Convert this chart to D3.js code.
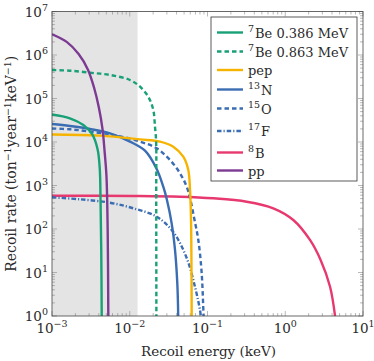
<!DOCTYPE html>
<html>
<head>
<meta charset="utf-8">
<script src="https://cdn.jsdelivr.net/npm/d3@7"></script>
<style>
  body { margin: 0; background: #fff; }
</style>
</head>
<body>
<div id="chart"></div>
<script>
// ---- data (energy in keV, rate in ton^-1 year^-1 keV^-1) ----
var be386E = [1e-3, 1.70e-3, 2.53e-3, 3.27e-3, 3.85e-3, 4.11e-3, 4.21e-3, 4.30e-3, 4.36e-3];
var be386R = [4.29e4, 3.51e4, 2.46e4, 1.53e4, 6.9e3, 2.5e3, 465, 33, 1];

var be863E = [1e-3, 1.70e-3, 3.08e-3, 5.57e-3, 1.007e-2, 1.355e-2, 1.73e-2, 2.01e-2, 2.11e-2, 2.18e-2, 2.19e-2, 2.20e-2];
var be863R = [4.52e5, 4.36e5, 3.92e5, 3.47e5, 2.66e5, 1.87e5, 1.1e5, 5.4e4, 2.25e4, 1.1e4, 465, 1];

var pepE = [1e-3, 4.14e-3, 1.355e-2, 2.45e-2, 3.63e-2, 4.88e-2, 5.66e-2, 5.96e-2, 6.14e-2, 6.26e-2];
var pepR = [1.49e4, 1.40e4, 1.15e4, 1.02e4, 7.8e3, 4.6e3, 2.27e3, 788, 161, 1];

var n13E = [1e-3, 1.70e-3, 3.08e-3, 5.57e-3, 1.007e-2, 1.57e-2, 2.22e-2, 2.70e-2, 3.01e-2, 3.46e-2, 3.82e-2, 4.09e-2, 4.20e-2];
var n13R = [2.59e4, 2.33e4, 1.99e4, 1.58e4, 1.02e4, 6.3e3, 2.4e3, 938, 464, 135, 33, 5.6, 1];

var o15E = [1e-3, 1.70e-3, 3.08e-3, 6.79e-3, 1.355e-2, 2.22e-2, 3.29e-2, 4.43e-2, 5.40e-2, 5.96e-2, 6.81e-2, 7.62e-2, 8.42e-2, 8.89e-2];
var o15R = [2.04e4, 1.96e4, 1.73e4, 1.40e4, 1.02e4, 7.16e3, 3.86e3, 1.91e3, 938, 516, 161, 55.9, 9.6, 1];

var f17E = [1e-3, 2.29e-3, 5.57e-3, 1.11e-2, 2.22e-2, 3.63e-2, 5.40e-2, 6.90e-2, 8.01e-2, 8.2e-2];
var f17R = [535, 482, 402, 299, 192, 85, 21.5, 4.7, 1.37, 1];

var b8E = [1e-3, 1.11e-2, 4.43e-2, 0.1187, 0.319, 0.702, 1.269, 2.08, 2.85, 3.77, 4.37];
var b8R = [583, 574, 553, 508, 424, 299, 161, 56, 19.4, 4.7, 1];

var ppE = [1e-3, 1.545e-3, 2.20e-3, 2.90e-3, 3.50e-3, 4.00e-3, 4.46e-3, 4.75e-3, 5.02e-3, 5.20e-3, 5.30e-3];
var ppR = [3.0e6, 2.0e6, 1.05e6, 4.6e5, 1.7e5, 6.3e4, 2.0e4, 6.0e3, 1.6e3, 95, 1];

var shadeRange = [1e-3, 0.0126];
var xTickExp = [-3, -2, -1, 0, 1];
var yTickExp = [0, 1, 2, 3, 4, 5, 6, 7];

// legend labels: superscript prefix + main text
var legendSup = ["7", "7", "", "13", "15", "17", "8", ""];
var legendMain = ["Be 0.386 MeV", "Be 0.863 MeV", "pep", "N", "O", "F", "B", "pp"];

// ---- chart ----
var W = 374, H = 361;
var margin = {top: 11.5, right: 11, bottom: 45, left: 52};
var width = W - margin.left - margin.right;
var height = H - margin.top - margin.bottom;
var serif = "DejaVu Serif";
var textColor = "#2a2a2a";

var svg = d3.select("#chart").append("svg")
    .attr("width", W)
    .attr("height", H)
    .attr("font-family", serif)
    .style("font-family", serif);

var g = svg.append("g")
    .attr("transform", "translate(" + margin.left + "," + margin.top + ")");

var x = d3.scaleLog().domain([1e-3, 10]).range([0, width]);
var y = d3.scaleLog().domain([1, 1e7]).range([height, 0]);

g.append("clipPath").attr("id", "clip")
    .append("rect").attr("width", width).attr("height", height);

// shaded region
g.append("rect")
    .attr("x", x(shadeRange[0]))
    .attr("y", 0)
    .attr("width", x(shadeRange[1]) - x(shadeRange[0]))
    .attr("height", height)
    .style("fill", "#e4e4e4");

// ticks (inward, all four sides)
var tickColor = "#8a8a8a";
var minorX = [], minorY = [];
xTickExp.forEach(function(e) {
    if (e < 1) for (var k = 2; k <= 9; k++) minorX.push(k * Math.pow(10, e));
});
yTickExp.forEach(function(e) {
    if (e < 7) for (var k = 2; k <= 9; k++) minorY.push(k * Math.pow(10, e));
});
var ticks = g.append("g").attr("class", "ticks").style("stroke", tickColor).style("stroke-width", 0.6);
xTickExp.forEach(function(e) {
    var px = x(Math.pow(10, e));
    ticks.append("line").attr("x1", px).attr("x2", px).attr("y1", height).attr("y2", height - 5);
    ticks.append("line").attr("x1", px).attr("x2", px).attr("y1", 0).attr("y2", 5);
});
minorX.forEach(function(v) {
    var px = x(v);
    ticks.append("line").attr("x1", px).attr("x2", px).attr("y1", height).attr("y2", height - 3);
    ticks.append("line").attr("x1", px).attr("x2", px).attr("y1", 0).attr("y2", 3);
});
yTickExp.forEach(function(e) {
    var py = y(Math.pow(10, e));
    ticks.append("line").attr("y1", py).attr("y2", py).attr("x1", 0).attr("x2", 5);
    ticks.append("line").attr("y1", py).attr("y2", py).attr("x1", width).attr("x2", width - 5);
});
minorY.forEach(function(v) {
    var py = y(v);
    ticks.append("line").attr("y1", py).attr("y2", py).attr("x1", 0).attr("x2", 3);
    ticks.append("line").attr("y1", py).attr("y2", py).attr("x1", width).attr("x2", width - 3);
});

// curves
var line = d3.line()
    .x(function(d) { return x(d[0]); })
    .y(function(d) { return y(d[1]); })
    .curve(d3.curveCatmullRom.alpha(0.5));

var series = [
    {E: be386E, R: be386R, color: "#18a077", dash: null},
    {E: be863E, R: be863R, color: "#18a077", dash: "4.5,3"},
    {E: pepE, R: pepR, color: "#f6b400", dash: null},
    {E: n13E, R: n13R, color: "#3b6db3", dash: null},
    {E: o15E, R: o15R, color: "#3b6db3", dash: "4.5,3"},
    {E: f17E, R: f17R, color: "#3b6db3", dash: "4.5,2,1.2,2"},
    {E: b8E, R: b8R, color: "#e7396f", dash: null},
    {E: ppE, R: ppR, color: "#7d3a93", dash: null}
];

var plot = g.append("g").attr("clip-path", "url(#clip)");
// draw order roughly as in the reference
[6, 5, 4, 3, 2, 1, 0, 7].forEach(function(i) {
    var s = series[i];
    var pts = s.E.map(function(e, j) { return [e, s.R[j]]; });
    plot.append("path")
        .datum(pts)
        .attr("d", line)
        .style("fill", "none")
        .style("stroke", s.color)
        .style("stroke-width", 2.4)
        .style("stroke-dasharray", s.dash);
});

// frame
g.append("rect")
    .attr("width", width).attr("height", height)
    .style("fill", "none").style("stroke", "#444").style("stroke-width", 0.8);

// tick labels
function powLabel(sel, exp) {
    sel.append("tspan").text("10");
    sel.append("tspan").attr("dy", -6).style("font-size", "9.5px")
        .text(exp < 0 ? "\u2212" + (-exp) : exp);
}
xTickExp.forEach(function(e) {
    var t = g.append("text")
        .attr("x", x(Math.pow(10, e)))
        .attr("y", height + 17)
        .attr("text-anchor", "middle")
        .style("fill", textColor)
        .style("font-size", "13.5px");
    powLabel(t, e);
});
yTickExp.forEach(function(e) {
    var t = g.append("text")
        .attr("x", -4)
        .attr("y", y(Math.pow(10, e)) + 5)
        .attr("text-anchor", "end")
        .style("fill", textColor)
        .style("font-size", "13.5px");
    powLabel(t, e);
});

// axis titles
svg.append("text")
    .attr("x", margin.left + width / 2 + 1)
    .attr("y", 356)
    .attr("text-anchor", "middle")
    .style("fill", textColor)
    .style("font-size", "13.5px")
    .text("Recoil energy (keV)");

var yt = svg.append("text")
    .attr("transform", "translate(16," + (margin.top + height / 2) + ") rotate(-90)")
    .attr("text-anchor", "middle")
    .style("fill", textColor)
    .style("font-size", "14px");
yt.append("tspan").text("Recoil rate (ton");
yt.append("tspan").attr("dy", -5).style("font-size", "9.5px").text("\u22121");
yt.append("tspan").attr("dy", 5).text("year");
yt.append("tspan").attr("dy", -5).style("font-size", "9.5px").text("\u22121");
yt.append("tspan").attr("dy", 5).text("keV");
yt.append("tspan").attr("dy", -5).style("font-size", "9.5px").text("\u22121");
yt.append("tspan").attr("dy", 5).text(")");

// legend
var legend = svg.append("g").attr("transform", "translate(211,17)");
legend.append("rect")
    .attr("width", 146).attr("height", 164)
    .style("fill", "#fff").style("stroke", "#333").style("stroke-width", 0.8);
var rowY = [15.5, 34.5, 53, 72.5, 91.5, 114, 135.5, 153.5];
series.forEach(function(s, i) {
    var ry = rowY[i];
    legend.append("line")
        .attr("x1", 6).attr("x2", 32).attr("y1", ry).attr("y2", ry)
        .style("stroke", s.color).style("stroke-width", 2.4)
        .style("stroke-dasharray", s.dash);
    var t = legend.append("text")
        .attr("x", 37).attr("y", ry + 5)
        .style("fill", textColor)
        .style("font-size", "13px");
    if (legendSup[i]) {
        t.append("tspan").attr("dy", -6).style("font-size", "9.5px").text(legendSup[i]);
        t.append("tspan").attr("dy", 6).attr("dx", 1).text(legendMain[i]);
    } else {
        t.text(legendMain[i]);
    }
});
</script>
</body>
</html>
